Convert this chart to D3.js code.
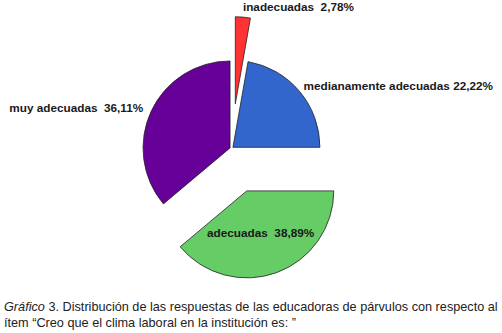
<!DOCTYPE html>
<html>
<head>
<meta charset="utf-8">
<script src="https://cdn.jsdelivr.net/npm/d3@7"></script>
<style>
  body { margin: 0; background: #fff; }
  svg text { font-family: "Liberation Sans", Arial, sans-serif; }
</style>
</head>
<body>
<div id="chart"></div>
<script>
// data
var categories = ["inadecuadas", "medianamente adecuadas", "adecuadas", "muy adecuadas"];
var values = [2.78, 22.22, 38.89, 36.11];
var labels = ["inadecuadas  2,78%", "medianamente adecuadas 22,22%", "adecuadas  38,89%", "muy adecuadas  36,11%"];

// styling
var colors = ["#ff3333", "#3366cc", "#66cc66", "#660099"];
var explode = [45, 2, 45, 1.5];

var width = 502, height = 333;
var cx = 231.4, cy = 148.6, radius = 87;

var svg = d3.select("#chart").append("svg")
    .attr("width", width)
    .attr("height", height);

var pie = d3.pie().sort(null).value(function(d) { return d; });
var arcs = pie(values);

var arc = d3.arc().innerRadius(0).outerRadius(radius);

function offset(d, i) {
  var a = (d.startAngle + d.endAngle) / 2;
  return [cx + explode[i] * Math.sin(a), cy - explode[i] * Math.cos(a)];
}

var g = svg.append("g");

g.selectAll("path")
  .data(arcs)
  .enter().append("path")
    .attr("transform", function(d, i) { return "translate(" + offset(d, i) + ")"; })
    .attr("d", arc)
    .attr("fill", function(d, i) { return colors[i]; })
    .attr("stroke", "#222")
    .attr("stroke-width", 0.8)
    .attr("stroke-linejoin", "round");

///////// labels, placed from each slice's geometry

function point(d, i, ang, r) {
  var o = offset(d, i);
  return [o[0] + r * Math.sin(ang), o[1] - r * Math.cos(ang)];
}

var place = [
  function(d, i) { var p = point(d, i, (d.startAngle + d.endAngle) / 2, radius); return {x: p[0], y: p[1] - 6, anchor: "start"}; },
  function(d, i) { var p = point(d, i, (d.startAngle + d.endAngle) / 2, radius); return {x: p[0] + 4, y: p[1] - 1, anchor: "start"}; },
  function(d, i) { var p = point(d, i, (d.startAngle + d.endAngle) / 2, radius * 0.55); return {x: p[0] - 2.5, y: p[1] + 1, anchor: "middle"}; },
  function(d, i) { var p = point(d, i, (d.startAngle + d.endAngle) / 2, radius); return {x: p[0] - 8, y: p[1] + 1, anchor: "end"}; }
];

svg.selectAll(".lbl")
  .data(arcs)
  .enter().append("text")
    .attr("class", "lbl")
    .each(function(d, i) {
      var p = place[i](d, i);
      d3.select(this)
        .attr("x", p.x)
        .attr("y", p.y)
        .attr("text-anchor", p.anchor);
    })
    .attr("font-size", 11.75)
    .attr("font-weight", "bold")
    .attr("fill", "#1a1a1a")
    .style("white-space", "pre")
    .text(function(d, i) { return labels[i]; });

///////// caption

var cap = svg.append("text")
    .attr("x", 4)
    .attr("y", 311)
    .attr("font-size", 12.7)
    .attr("fill", "#222");
cap.append("tspan").attr("font-style", "italic").text("Gráfico");
cap.append("tspan").text(" 3. Distribución de las respuestas de las educadoras de párvulos con respecto al");

svg.append("text")
    .attr("x", 4)
    .attr("y", 327)
    .attr("font-size", 12.7)
    .attr("fill", "#222")
    .text("ítem “Creo que el clima laboral en la institución es: ”");
</script>
</body>
</html>
